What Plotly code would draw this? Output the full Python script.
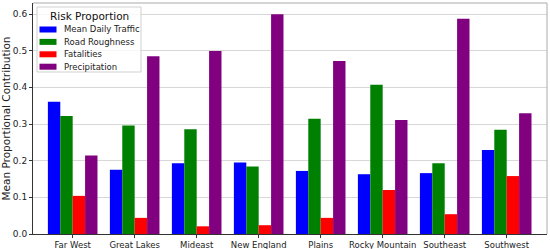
import plotly.graph_objects as go

regions = ['Far West', 'Great Lakes', 'Mideast', 'New England', 'Plains',
           'Rocky Mountain', 'Southeast', 'Southwest']

mean_daily_traffic = [0.361, 0.175, 0.193, 0.195, 0.172, 0.163, 0.166, 0.229]
road_roughness = [0.322, 0.296, 0.286, 0.184, 0.314, 0.407, 0.193, 0.284]
fatalities = [0.104, 0.044, 0.021, 0.024, 0.044, 0.120, 0.054, 0.158]
precipitation = [0.214, 0.485, 0.499, 0.599, 0.472, 0.311, 0.587, 0.329]

series = [
    ('Mean Daily Traffic', mean_daily_traffic, 'rgb(0,0,255)'),
    ('Road Roughness', road_roughness, 'rgb(0,128,0)'),
    ('Fatalities', fatalities, 'rgb(255,0,0)'),
    ('Precipitation', precipitation, 'rgb(128,0,128)'),
]

W, H = 550, 249
ML, MR, MT, MB = 33, 3, 3, 15

# pixel -> paper helpers for the hand-made legend
def px_x(p):
    return (p - ML) / (W - ML - MR)

def px_y(p):
    return (H - MB - p) / (H - MT - MB)

fig = go.Figure()
for name, vals, col in series:
    fig.add_trace(go.Bar(x=regions, y=vals, name=name, marker_color=col,
                         marker_line_width=0, showlegend=False))

fig.update_layout(
    width=W, height=H,
    margin=dict(l=ML, r=MR, t=MT, b=MB, autoexpand=False),
    paper_bgcolor='white', plot_bgcolor='white',
    font=dict(family='DejaVu Sans', size=9, color='#222'),
    barmode='group', bargap=0.2, bargroupgap=0,
)

fig.update_xaxes(
    range=[-0.64, 7.65], showgrid=False,
    showline=True, linecolor='#333', linewidth=1,
    ticks='outside', ticklen=3, tickcolor='#333',
    tickangle=0, tickfont=dict(size=8.5),
)
fig.update_yaxes(
    range=[0, 0.63], dtick=0.1, tickformat='.1f',
    showgrid=True, gridcolor='rgba(190,190,190,0.6)', gridwidth=1,
    layer='above traces', zeroline=False,
    showline=True, linecolor='#333', linewidth=1,
    ticks='outside', ticklen=3, tickcolor='#333',
    tickfont=dict(size=9),
    title=dict(text='Mean Proportional Contribution', font=dict(size=10.5), standoff=5),
)

# light frame on top and right like the original
fig.add_shape(type='line', xref='paper', yref='paper', x0=0, x1=1, y0=1, y1=1,
              line=dict(color='#aaaaaa', width=1))
fig.add_shape(type='line', xref='paper', yref='paper', x0=1, x1=1, y0=0, y1=1,
              line=dict(color='#aaaaaa', width=1))

# legend box (matplotlib style, compact)
fig.add_shape(type='rect', xref='paper', yref='paper',
              x0=px_x(37), x1=px_x(141), y0=px_y(72), y1=px_y(7),
              fillcolor='rgba(255,255,255,0.8)', line=dict(color='#d0d0d0', width=1))
fig.add_annotation(xref='paper', yref='paper', x=px_x(89), y=px_y(16),
                   text='Risk Proportion', showarrow=False,
                   font=dict(size=10.5, color='#111'), xanchor='center', yanchor='middle')
for i, (name, vals, col) in enumerate(series):
    yc = 29.5 + i * 12.4
    fig.add_shape(type='rect', xref='paper', yref='paper',
                  x0=px_x(39.5), x1=px_x(56.5), y0=px_y(yc + 3), y1=px_y(yc - 3),
                  fillcolor=col, line=dict(width=0))
    fig.add_annotation(xref='paper', yref='paper', x=px_x(62), y=px_y(yc),
                       text=name, showarrow=False, font=dict(size=8.5, color='#222'),
                       xanchor='left', yanchor='middle')

fig.write_html('out.html', config={'displayModeBar': False},
               post_script="document.body.style.margin='0';")
